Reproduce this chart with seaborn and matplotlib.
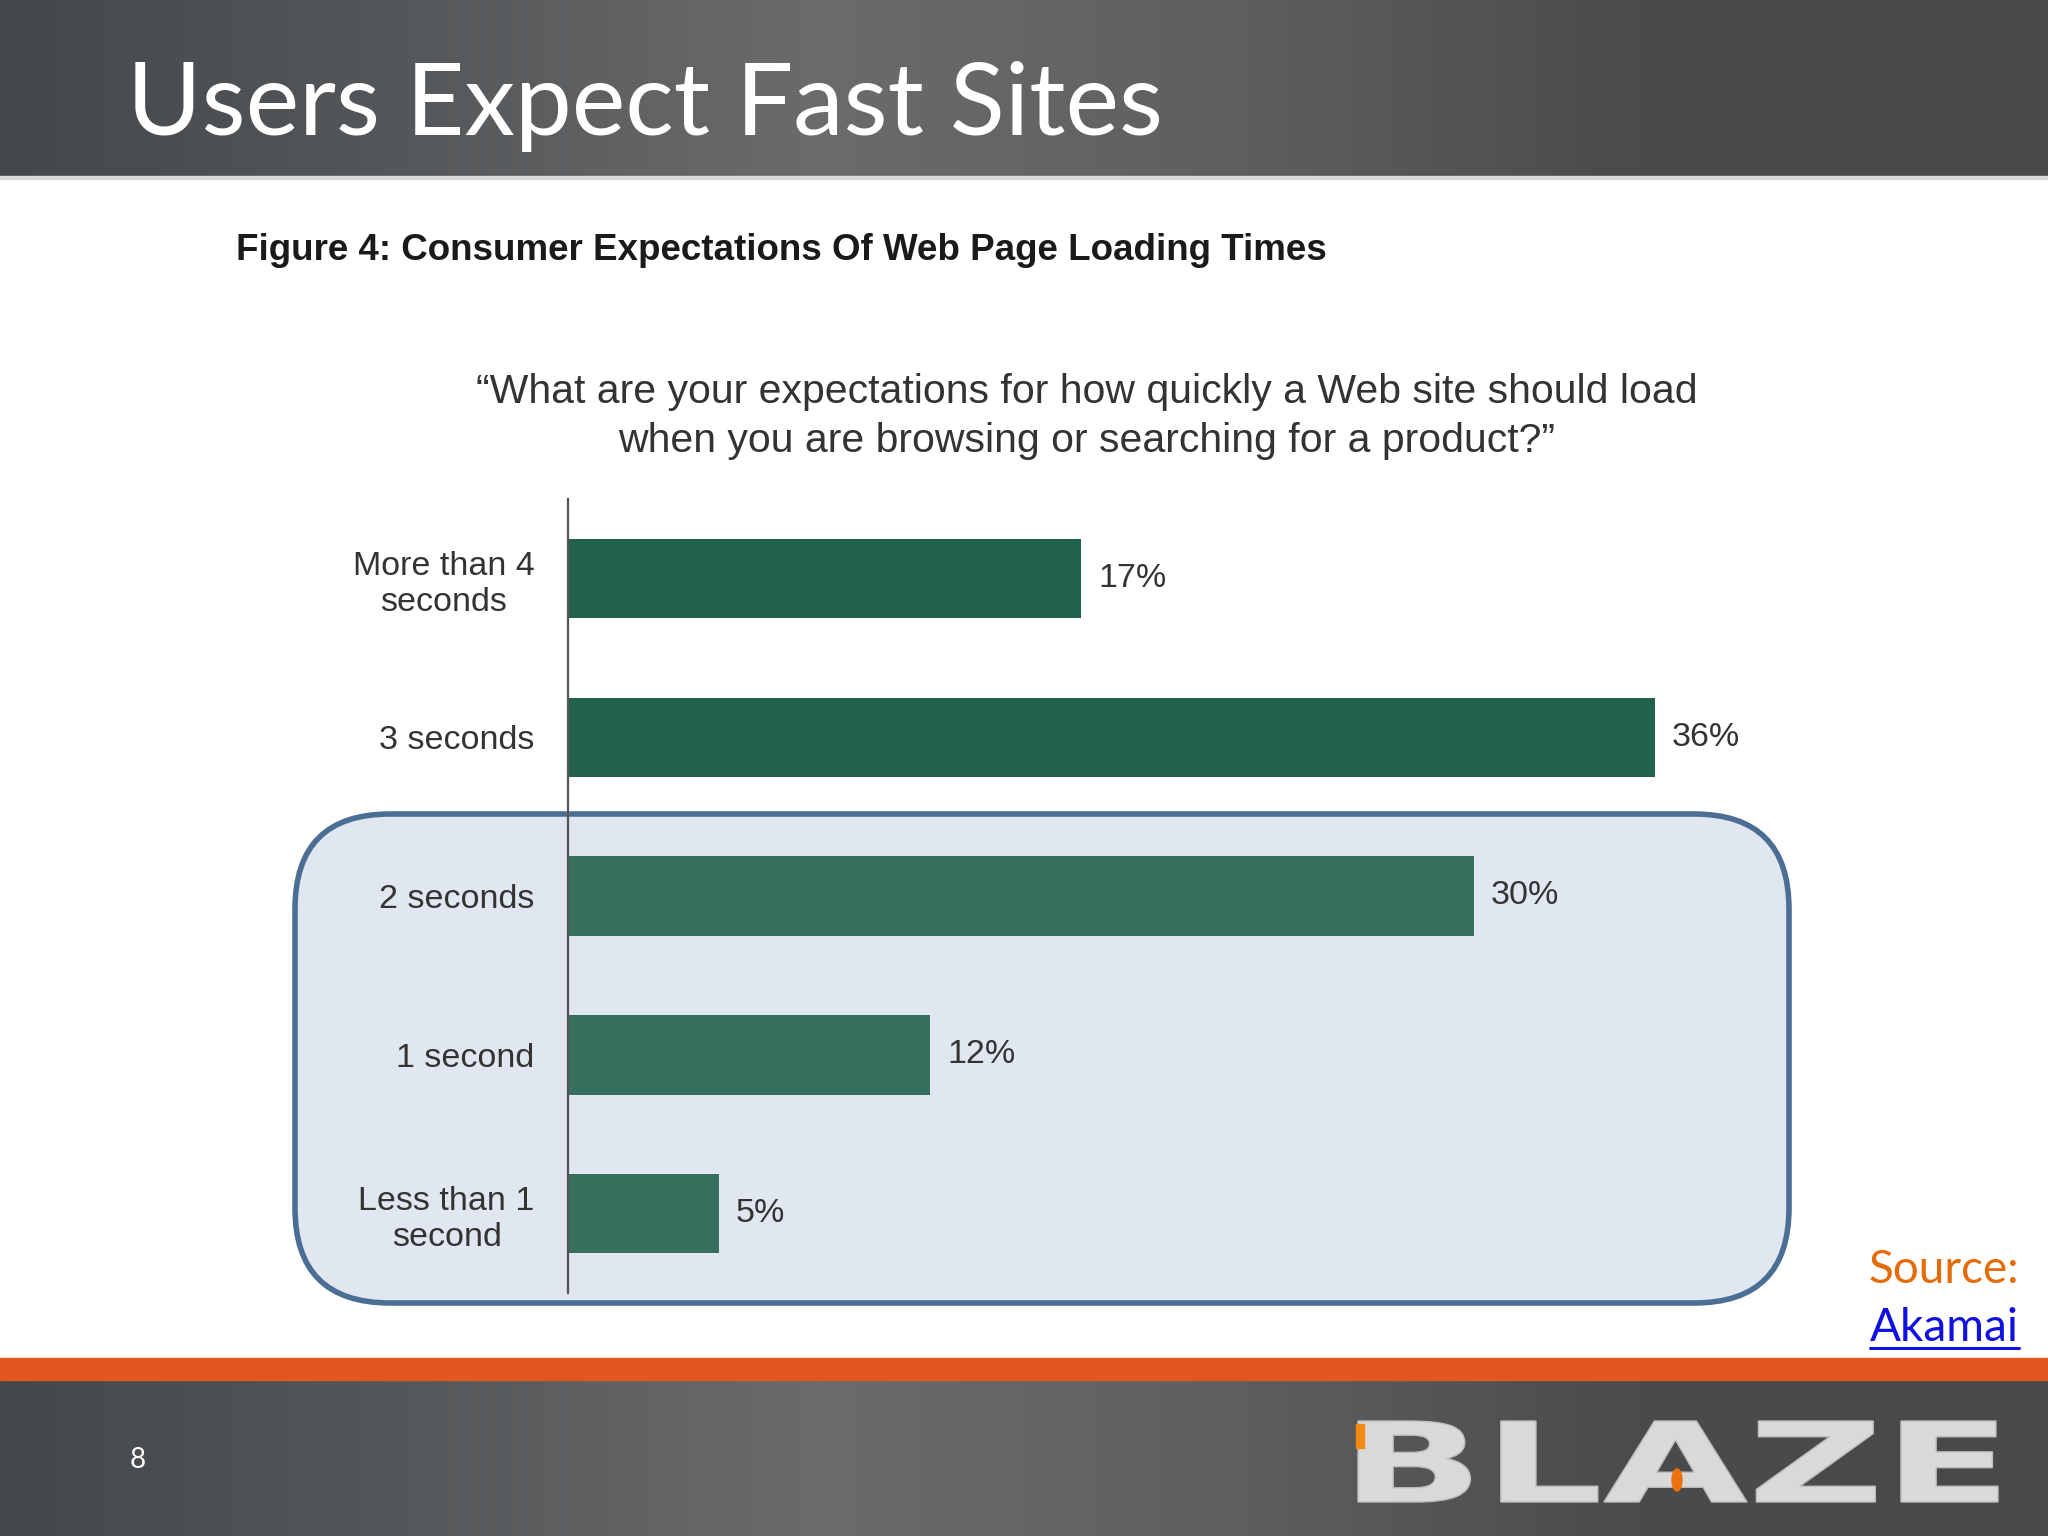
# Users Expect Fast Sites - slide with Akamai survey bar chart
import numpy as np
import matplotlib.pyplot as plt
import seaborn as sns
from matplotlib.colors import LinearSegmentedColormap
from matplotlib.patches import FancyBboxPatch, PathPatch, Ellipse, Rectangle
from matplotlib.textpath import TextPath
from matplotlib.font_manager import FontProperties
from matplotlib.transforms import Affine2D

# Data
load_times = ["More than 4\nseconds", "3 seconds", "2 seconds", "1 second", "Less than 1\nsecond"]
shares = [17, 36, 30, 12, 5]
bar_colors = ["#22614A", "#22614A", "#37705F", "#37705F", "#37705F"]

slide_title = "Users Expect Fast Sites"
figure_title = "Figure 4: Consumer Expectations Of Web Page Loading Times"
question = ["\u201cWhat are your expectations for how quickly a Web site should load",
            "when you are browsing or searching for a product?\u201d"]

sns.set_theme(style="white")
plt.rcParams["font.family"] = ["Liberation Sans", "DejaVu Sans"]

W, H = 2048, 1536
fig = plt.figure(figsize=(W / 100, H / 100), dpi=100)
fig.patch.set_facecolor("white")

# background layer in pixel coordinates (y down)
bg = fig.add_axes([0, 0, 1, 1], zorder=-5)
bg.set_xlim(0, W)
bg.set_ylim(H, 0)
bg.axis("off")

grey = LinearSegmentedColormap.from_list(
    "slidegrey", ["#45484A", "#55585A", "#6A6B6D", "#5E5F61", "#4A4B4D", "#48494B"])
grad = np.linspace(0, 1, 512).reshape(1, -1)
bg.imshow(grad, cmap=grey, extent=(0, W, 176, 0), aspect="auto", zorder=1)
bg.add_patch(Rectangle((0, 176), W, 3, color="#D8D8D8", zorder=2))
bg.imshow(grad, cmap=grey, extent=(0, W, H, 1380), aspect="auto", zorder=1)
bg.add_patch(Rectangle((0, 1358), W, 22, color="#E4561F", zorder=2))

bg.text(127, 135, slide_title, color="white", fontsize=73, family=["Lato", "DejaVu Sans"],
        ha="left", va="baseline", zorder=3)
bg.text(236, 251, figure_title, color="#1A1A1A", fontsize=26.5, fontweight="bold",
        ha="left", va="center", zorder=3)
bg.text(1087, 392, question[0], color="#333333", fontsize=29.5, ha="center", va="center", zorder=3)
bg.text(1087, 441, question[1], color="#333333", fontsize=29.5, ha="center", va="center", zorder=3)

# highlight box around the fast answers
box = FancyBboxPatch((295, 814), 1789 - 295, 1303 - 814,
                     boxstyle="round,pad=0,rounding_size=95",
                     facecolor="#E1E7F0", edgecolor="#4B6F94", linewidth=4, zorder=2)
bg.add_patch(box)

# source note
bg.text(2019, 1283, "Source:", color="#E46C0A", fontsize=33, family=["Lato", "DejaVu Sans"],
        ha="right", va="baseline", zorder=3)
akamai = bg.text(2019, 1341, "Akamai", color="#1010E0", fontsize=33, family=["Lato", "DejaVu Sans"],
                 ha="right", va="baseline", zorder=3)

# page number
bg.text(138, 1460, "8", color="white", fontsize=20, family=["Lato", "DejaVu Sans"],
        ha="center", va="center", zorder=3)

# BLAZE logo, stretched text
tp = TextPath((0, 0), "BLAZE", size=100, prop=FontProperties(family="DejaVu Sans", weight="bold"))
ext = tp.get_extents()
sx = (1998 - 1358) / ext.width
sy = (1502 - 1421) / ext.height
tr = Affine2D().translate(-ext.x0, -ext.y0).scale(sx, -sy).translate(1358, 1502) + bg.transData
bg.add_patch(PathPatch(tp, transform=tr, facecolor="#D9D9D9", edgecolor="#BDBDBD", lw=1, zorder=3))
bg.add_patch(Rectangle((1356, 1424), 8, 24, color="#F08A10", zorder=4))
bg.add_patch(Ellipse((1677, 1480), 10, 22, color="#F07010", zorder=4))

# bar chart
ax = fig.add_axes([568 / W, (H - 1293) / H, (1789 - 568) / W, 794 / H])
ax.patch.set_alpha(0)
sns.barplot(x=shares, y=load_times, hue=load_times, palette=bar_colors, legend=False,
            width=0.5, saturation=1, linewidth=0, ax=ax)
ax.set_xlim(0, (1789 - 568) / 30.2)
ax.set_ylim(4.5, -0.5)
ax.set_xticks([])
ax.set_xlabel("")
ax.set_ylabel("")
for side in ["top", "right", "bottom"]:
    ax.spines[side].set_visible(False)
ax.spines["left"].set_color("#555555")
ax.spines["left"].set_linewidth(1.6)
ax.tick_params(axis="y", length=0, pad=24, labelsize=24.5, labelcolor="#333333")
for lbl in ax.get_yticklabels():
    lbl.set_multialignment("center")
for cont in ax.containers:
    ax.bar_label(cont, fmt="%d%%", padding=12, fontsize=24.5, color="#333333")

# underline for the link
fig.canvas.draw()
bb = akamai.get_window_extent().transformed(bg.transData.inverted())
bg.plot([bb.x0, bb.x1], [1348, 1348], color="#1010E0", lw=2.2, zorder=3)

fig.savefig("out.png", dpi=100)
